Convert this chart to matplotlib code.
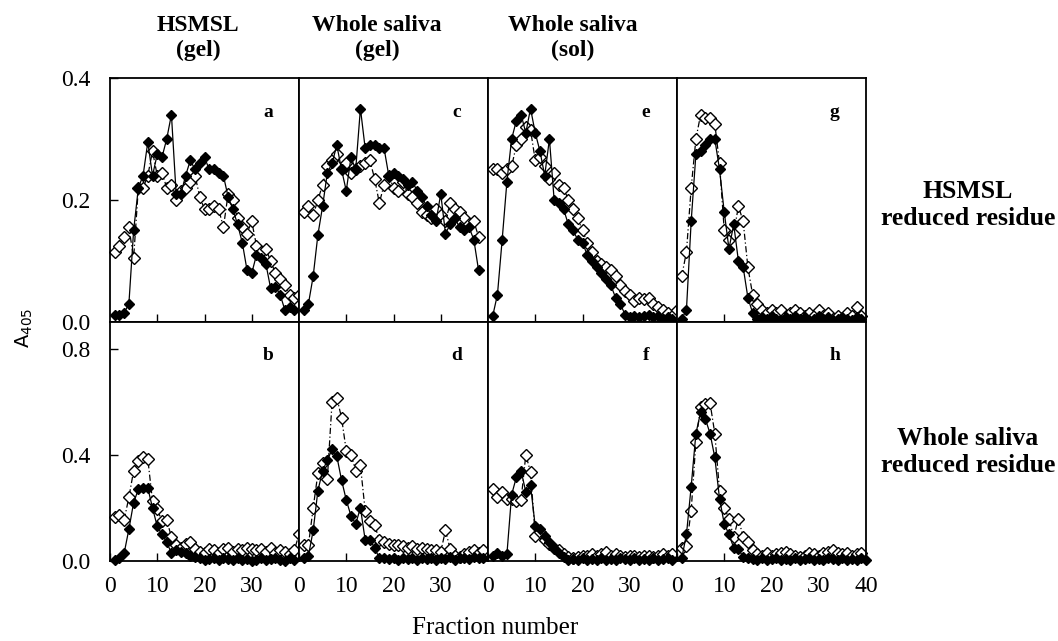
import matplotlib
matplotlib.use('Agg')
import matplotlib.pyplot as plt

plt.rcParams['font.family'] = ['Liberation Serif', 'DejaVu Serif']

# fraction values (filled = solid line, open = dash-dot line)
a_filled = [0.012, 0.012, 0.015, 0.03, 0.15, 0.22, 0.24, 0.295, 0.24, 0.275, 0.27, 0.30, 0.34, 0.21, 0.21,
            0.24, 0.265, 0.25, 0.26, 0.27, 0.25, 0.25, 0.245, 0.24, 0.205, 0.185, 0.16, 0.13, 0.085, 0.08,
            0.11, 0.105, 0.095, 0.055, 0.058, 0.045, 0.02, 0.025, 0.02]
a_open = [0.115, 0.125, 0.14, 0.155, 0.105, 0.22, 0.22, 0.24, 0.28, 0.24, 0.245, 0.22, 0.225, 0.2, 0.215,
          0.22, 0.23, 0.24, 0.205, 0.185, 0.185, 0.19, 0.185, 0.155, 0.21, 0.2, 0.17, 0.155, 0.145, 0.165,
          0.125, 0.115, 0.12, 0.1, 0.08, 0.07, 0.06, 0.045, 0.04, 0.045]
b_filled = [0.005, 0.01, 0.03, 0.12, 0.22, 0.27, 0.275, 0.275, 0.2, 0.13, 0.1, 0.07, 0.03, 0.04, 0.035,
            0.03, 0.02, 0.015, 0.01, 0.005, 0.008, 0.01, 0.005, 0.01, 0.008, 0.005, 0.01, 0.005, 0.008, 0.0,
            0.005, 0.01, 0.005, 0.008, 0.01, 0.005, 0.0, 0.01, 0.005]
b_open = [0.165, 0.175, 0.155, 0.24, 0.34, 0.375, 0.39, 0.385, 0.225, 0.195, 0.15, 0.155, 0.09, 0.06, 0.05,
          0.065, 0.07, 0.045, 0.035, 0.03, 0.045, 0.04, 0.03, 0.045, 0.05, 0.035, 0.045, 0.04, 0.05, 0.045,
          0.04, 0.045, 0.035, 0.05, 0.03, 0.04, 0.035, 0.025, 0.04, 0.1]
c_filled = [0.02, 0.03, 0.075, 0.143, 0.19, 0.245, 0.26, 0.29, 0.25, 0.215, 0.27, 0.25, 0.35, 0.285, 0.29,
            0.29, 0.285, 0.285, 0.24, 0.245, 0.24, 0.235, 0.225, 0.23, 0.215, 0.205, 0.19, 0.175, 0.165, 0.21,
            0.145, 0.16, 0.17, 0.155, 0.15, 0.155, 0.135, 0.085]
c_open = [0.18, 0.19, 0.175, 0.2, 0.225, 0.255, 0.265, 0.275, 0.25, 0.26, 0.245, 0.25, 0.255, 0.26, 0.265,
          0.235, 0.195, 0.225, 0.24, 0.22, 0.215, 0.23, 0.21, 0.205, 0.195, 0.18, 0.175, 0.17, 0.185, 0.175,
          0.165, 0.195, 0.185, 0.18, 0.17, 0.16, 0.165, 0.14]
d_filled = [0.01, 0.02, 0.115, 0.265, 0.34, 0.38, 0.42, 0.395, 0.305, 0.23, 0.17, 0.14, 0.2, 0.08, 0.08,
            0.05, 0.01, 0.01, 0.008, 0.01, 0.005, 0.012, 0.008, 0.01, 0.005, 0.01, 0.008, 0.012, 0.005, 0.01,
            0.008, 0.015, 0.005, 0.01, 0.012, 0.008, 0.015, 0.01, 0.012]
d_open = [0.06, 0.06, 0.2, 0.33, 0.37, 0.31, 0.6, 0.615, 0.54, 0.415, 0.4, 0.34, 0.36, 0.19, 0.15,
          0.135, 0.08, 0.07, 0.065, 0.06, 0.06, 0.055, 0.05, 0.055, 0.045, 0.05, 0.045, 0.04, 0.04, 0.035,
          0.115, 0.045, 0.02, 0.015, 0.025, 0.035, 0.04, 0.03, 0.04]
e_filled = [0.01, 0.045, 0.135, 0.23, 0.3, 0.33, 0.34, 0.31, 0.35, 0.31, 0.28, 0.24, 0.3, 0.2, 0.195,
            0.185, 0.16, 0.15, 0.135, 0.13, 0.11, 0.1, 0.09, 0.08, 0.07, 0.06, 0.04, 0.03, 0.012, 0.008,
            0.01, 0.008, 0.01, 0.012, 0.008, 0.01, 0.005, 0.008, 0.005]
e_open = [0.25, 0.25, 0.245, 0.25, 0.255, 0.29, 0.3, 0.32, 0.315, 0.265, 0.27, 0.255, 0.235, 0.245, 0.225,
          0.22, 0.2, 0.185, 0.17, 0.15, 0.13, 0.115, 0.1, 0.095, 0.09, 0.085, 0.075, 0.06, 0.05, 0.045,
          0.035, 0.04, 0.038, 0.04, 0.03, 0.025, 0.02, 0.015, 0.01, 0.02]
f_filled = [0.02, 0.03, 0.02, 0.025, 0.25, 0.315, 0.34, 0.26, 0.285, 0.13, 0.12, 0.095, 0.07, 0.05, 0.03,
            0.015, 0.005, 0.008, 0.005, 0.01, 0.005, 0.008, 0.005, 0.01, 0.005, 0.008, 0.005, 0.01, 0.008, 0.005,
            0.01, 0.005, 0.008, 0.005, 0.01, 0.005, 0.008, 0.01, 0.005]
f_open = [0.27, 0.24, 0.26, 0.235, 0.235, 0.225, 0.23, 0.4, 0.335, 0.095, 0.11, 0.08, 0.065, 0.05, 0.04,
          0.025, 0.015, 0.01, 0.015, 0.02, 0.02, 0.025, 0.02, 0.025, 0.035, 0.02, 0.025, 0.02, 0.015, 0.02,
          0.02, 0.015, 0.02, 0.02, 0.015, 0.02, 0.025, 0.02, 0.025]
g_filled = [0.005, 0.02, 0.165, 0.275, 0.28, 0.29, 0.3, 0.3, 0.25, 0.18, 0.12, 0.16, 0.1, 0.09, 0.04,
            0.015, 0.005, 0.008, 0.005, 0.01, 0.005, 0.003, 0.008, 0.005, 0.01, 0.005, 0.008, 0.003, 0.005, 0.01,
            0.005, 0.008, 0.003, 0.005, 0.008, 0.005, 0.003, 0.008, 0.005]
g_open = [0.075, 0.115, 0.22, 0.3, 0.34, 0.335, 0.335, 0.325, 0.26, 0.15, 0.135, 0.145, 0.19, 0.165, 0.09,
          0.045, 0.03, 0.02, 0.015, 0.02, 0.015, 0.02, 0.01, 0.015, 0.02, 0.015, 0.01, 0.015, 0.01, 0.02,
          0.01, 0.015, 0.005, 0.01, 0.005, 0.015, 0.01, 0.025, 0.01]
h_filled = [0.01, 0.1, 0.28, 0.48, 0.56, 0.535, 0.48, 0.39, 0.235, 0.14, 0.1, 0.05, 0.045, 0.015, 0.01,
            0.008, 0.005, 0.01, 0.005, 0.008, 0.01, 0.005, 0.008, 0.005, 0.01, 0.005, 0.008, 0.01, 0.005, 0.008,
            0.005, 0.01, 0.008, 0.005, 0.01, 0.005, 0.008, 0.005, 0.01, 0.005]
h_open = [0.05, 0.055, 0.19, 0.45, 0.58, 0.59, 0.595, 0.48, 0.265, 0.2, 0.16, 0.09, 0.16, 0.09, 0.07,
          0.04, 0.025, 0.02, 0.03, 0.02, 0.025, 0.03, 0.035, 0.025, 0.02, 0.015, 0.02, 0.03, 0.025, 0.02,
          0.03, 0.035, 0.04, 0.03, 0.025, 0.03, 0.02, 0.025, 0.03]

col_titles = ['HSMSL\n(gel)', 'Whole saliva\n(gel)', 'Whole saliva\n(sol)']
row_titles = ['HSMSL\nreduced residue', 'Whole saliva\nreduced residue']
letters = [['a', 'c', 'e', 'g'], ['b', 'd', 'f', 'h']]
series = [[(a_filled, a_open), (c_filled, c_open), (e_filled, e_open), (g_filled, g_open)],
          [(b_filled, b_open), (d_filled, d_open), (f_filled, f_open), (h_filled, h_open)]]

W, H = 1058, 641
fig = plt.figure(figsize=(W / 100, H / 100), dpi=100)

x0, pw = 110, 189
rows = [(78, 322, 0.4, [0.0, 0.2, 0.4]), (322, 561, 0.9, [0.0, 0.4, 0.8])]

for r, (top, bot, ymax, yt) in enumerate(rows):
    for c in range(4):
        ax = fig.add_axes([(x0 + c * pw) / W, 1 - bot / H, pw / W, (bot - top) / H])
        filled, opened = series[r][c]
        ax.plot(range(1, len(opened) + 1), opened, color='black', lw=0.9, ls=(0, (5, 2, 1, 2)),
                marker='D', ms=6.0, mfc='white', mec='black', mew=1.0, clip_on=False)
        ax.plot(range(1, len(filled) + 1), filled, color='black', lw=0.9, ls='-',
                marker='D', ms=5.5, mfc='black', mec='black', clip_on=False)
        ax.set_xlim(0, 40)
        ax.set_ylim(0, ymax)
        for s in ax.spines.values():
            s.set_linewidth(1.3)
        ax.tick_params(direction='in', length=6, width=1, labelsize=17)
        ax.tick_params(axis='x', pad=11)
        ax.tick_params(axis='y', pad=14)
        if c == 0:
            ax.set_yticks(yt)
            ax.set_yticklabels(['%.1f' % v for v in yt])
        else:
            ax.set_yticks([])
        if r == 0:
            ax.set_xticks([10, 20, 30])
            ax.set_xticklabels([])
        else:
            xt = [0, 10, 20, 30, 40] if c == 3 else [0, 10, 20, 30]
            ax.set_xticks(xt)
            ax.set_xticklabels([str(v) for v in xt])
        ax.text(0.835, 0.86, letters[r][c], transform=ax.transAxes, fontsize=14,
                fontweight='bold', ha='center', va='center')

# column headings
for xc, t in zip([198, 377, 573], col_titles):
    fig.text(xc / W, 1 - 38 / H, t, ha='center', va='center', fontsize=17,
             fontweight='bold', linespacing=1.25)

# row headings on the right
for yc, t in zip([205, 452], row_titles):
    fig.text(968 / W, 1 - yc / H, t, ha='center', va='center', fontsize=18.5,
             fontweight='bold', linespacing=1.2)

fig.text(24 / W, 1 - 328 / H, r'A$_{\mathregular{405}}$', rotation=90, ha='center', va='center',
         fontsize=14, family='DejaVu Sans')
fig.text(495 / W, 1 - 628 / H, 'Fraction number', ha='center', va='center', fontsize=18)

fig.savefig('out.png', dpi=100)
